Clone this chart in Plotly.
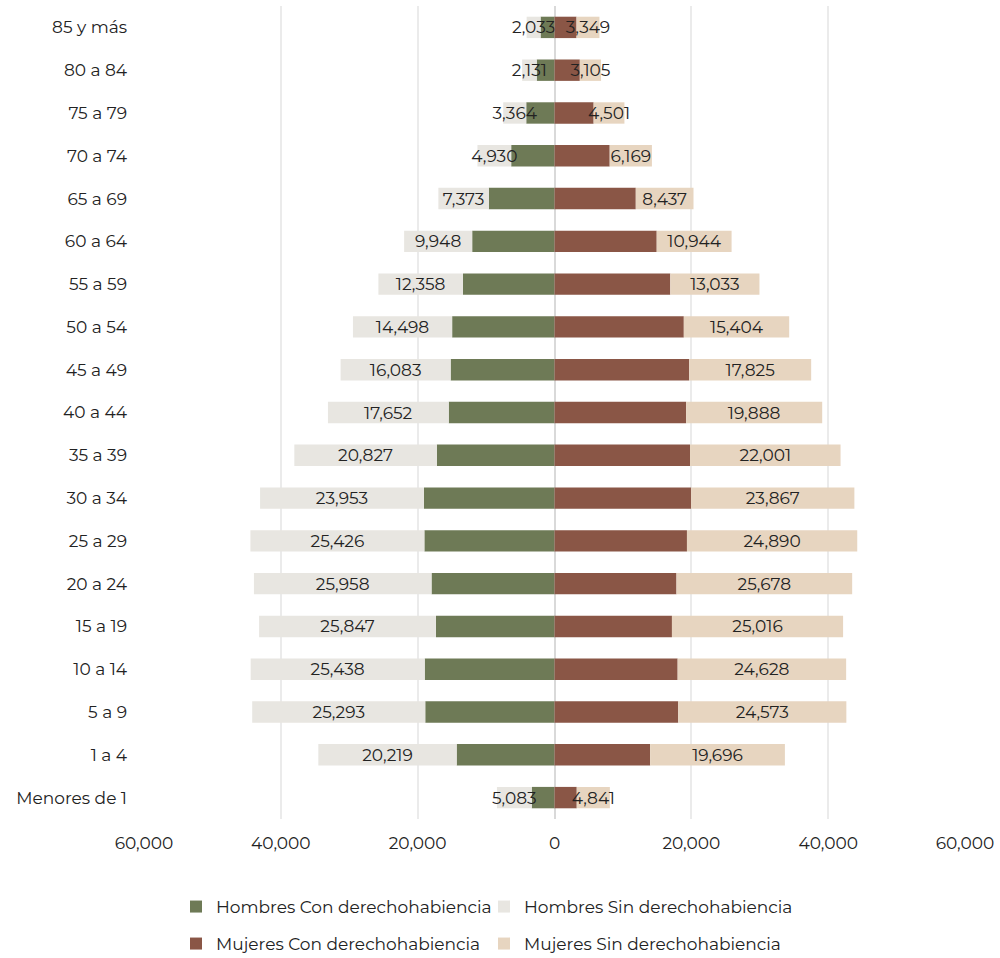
import plotly.graph_objects as go

categorias = ["Menores de 1", "1 a 4", "5 a 9", "10 a 14", "15 a 19", "20 a 24",
              "25 a 29", "30 a 34", "35 a 39", "40 a 44", "45 a 49", "50 a 54",
              "55 a 59", "60 a 64", "65 a 69", "70 a 74", "75 a 79", "80 a 84", "85 y más"]

hombres_con = [3330, 14300, 18890, 18970, 17330, 17975, 19020, 19080, 17200, 15460,
               15180, 14960, 13380, 12030, 9600, 6330, 4130, 2600, 2040]
hombres_sin = [5083, 20219, 25293, 25438, 25847, 25958, 25426, 23953, 20827, 17652,
               16083, 14498, 12358, 9948, 7373, 4930, 3364, 2131, 2033]
mujeres_con = [3250, 13980, 18085, 18000, 17165, 17830, 19360, 19965, 19810, 19240,
               19690, 18900, 16925, 14940, 11880, 8070, 5720, 3700, 3220]
mujeres_sin = [4841, 19696, 24573, 24628, 25016, 25678, 24890, 23867, 22001, 19888,
               17825, 15404, 13033, 10944, 8437, 6169, 4501, 3105, 3349]

tick_vals = [-60000, -40000, -20000, 0, 20000, 40000, 60000]
tick_text = ["60,000", "40,000", "20,000", "0", "20,000", "40,000", "60,000"]

FONT = "Montserrat, Open Sans, sans-serif"
FS = 17
c_hcon, c_hsin, c_mcon, c_msin = "#6E7A56", "#E8E6E1", "#8A5646", "#E7D5C0"

fig = go.Figure()
fig.add_trace(go.Bar(y=categorias, x=[-v for v in hombres_con], orientation="h",
                     name="Hombres Con derechohabiencia", marker_color=c_hcon,
                     legend="legend"))
fig.add_trace(go.Bar(y=categorias, x=[-v for v in hombres_sin], orientation="h",
                     name="Hombres Sin derechohabiencia", marker_color=c_hsin,
                     text=[f"{v:,}" for v in hombres_sin], textposition="inside",
                     insidetextanchor="middle", constraintext="none", textangle=0,
                     textfont=dict(color="#222222", size=FS, family=FONT),
                     legend="legend"))
fig.add_trace(go.Bar(y=categorias, x=mujeres_con, orientation="h",
                     name="Mujeres Con derechohabiencia", marker_color=c_mcon,
                     legend="legend2"))
fig.add_trace(go.Bar(y=categorias, x=mujeres_sin, orientation="h",
                     name="Mujeres Sin derechohabiencia", marker_color=c_msin,
                     text=[f"{v:,}" for v in mujeres_sin], textposition="inside",
                     insidetextanchor="middle", constraintext="none", textangle=0,
                     textfont=dict(color="#222222", size=FS, family=FONT),
                     legend="legend2"))

fig.update_traces(marker_line_width=0)

fig.update_layout(
    barmode="relative",
    bargap=0.5,
    width=1000, height=958,
    margin=dict(l=144, r=30, t=6, b=139),
    paper_bgcolor="white", plot_bgcolor="white",
    font=dict(family=FONT, size=FS, color="#222222"),
    xaxis=dict(range=[-60000, 60000], tickvals=tick_vals, ticktext=tick_text,
               showgrid=True, gridcolor="#EBEBEB", gridwidth=2,
               zeroline=True, zerolinecolor="#D9D9D9", zerolinewidth=2,
               showline=False, ticks="", ticklabelstandoff=12, fixedrange=True),
    yaxis=dict(categoryorder="array", categoryarray=categorias, showgrid=False,
               zeroline=False, showline=False, ticks="", ticklabelstandoff=16),
    legend=dict(orientation="h", xref="container", yref="container",
                x=0.176, xanchor="left", y=1 - 907 / 958, yanchor="middle",
                entrywidth=263, entrywidthmode="pixels", traceorder="normal",
                font=dict(size=FS, family=FONT), itemclick=False),
    legend2=dict(orientation="h", xref="container", yref="container",
                 x=0.176, xanchor="left", y=1 - 944 / 958, yanchor="middle",
                 entrywidth=263, entrywidthmode="pixels", traceorder="normal",
                 font=dict(size=FS, family=FONT), itemclick=False),
    showlegend=True,
)

fig.write_html("out.html", config={"displayModeBar": False},
               post_script="document.body.style.margin='0';document.body.style.padding='0';")
